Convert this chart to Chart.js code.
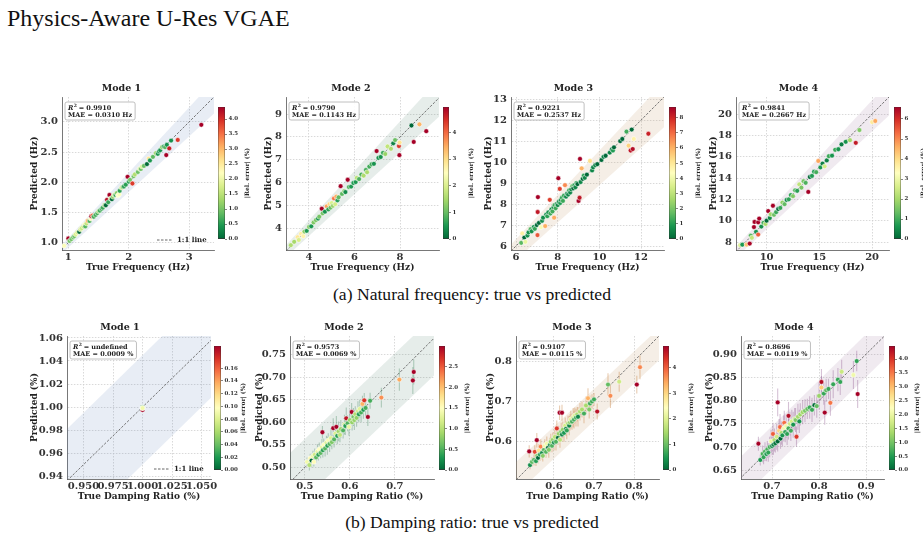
<!DOCTYPE html>
<html><head><meta charset="utf-8">
<script src="https://cdn.jsdelivr.net/npm/chart.js@4.4.1/dist/chart.umd.min.js"></script>
<style>
html,body{margin:0;padding:0;background:#fff}
body{width:923px;height:541px;position:relative;overflow:hidden}
.t{position:absolute;font-family:"Liberation Serif","Times New Roman",serif;color:#111;white-space:nowrap;line-height:1}
canvas{position:absolute}
</style></head><body>
<div class="t" style="left:7px;top:6px;font-size:24px">Physics-Aware U-Res VGAE</div>
<div class="t" style="left:0;width:944px;text-align:center;top:286px;font-size:17.6px">(a) Natural frequency: true vs predicted</div>
<div class="t" style="left:0;width:944px;text-align:center;top:514px;font-size:17.6px">(b) Damping ratio: true vs predicted</div>
<script>
// ================= DATA =================
const modeTitles = ['Mode 1','Mode 2','Mode 3','Mode 4'];

// Natural frequency (Hz)
const freqTrue1 = [0.93,1.00,1.02,1.05,1.08,1.10,1.12,1.15,1.18,1.20,1.22,1.25,1.27,1.28,1.30,1.32,1.35,1.37,1.38,1.40,1.42,1.45,1.48,1.50,1.52,1.55,1.57,1.60,1.62,1.64,1.66,1.68,1.70,1.72,1.74,1.76,1.78,1.80,1.82,1.84,1.85,1.88,1.90,1.92,1.95,1.98,2.00,2.02,2.06,2.08,2.10,2.15,2.18,2.20,2.22,2.25,2.30,2.33,2.35,2.40,2.45,2.48,2.50,2.52,2.55,2.58,2.60,2.62,2.63,2.67,2.70,2.81,3.20];
const freqPred1 = [0.95,1.07,1.03,1.06,1.09,1.11,1.14,1.17,1.18,1.22,1.24,1.27,1.30,1.27,1.32,1.36,1.36,1.40,1.44,1.45,1.43,1.46,1.49,1.52,1.53,1.56,1.58,1.62,1.62,1.71,1.67,1.79,1.73,1.72,1.76,1.79,1.79,1.82,1.78,1.80,1.86,1.91,1.92,1.93,1.96,2.09,2.01,2.04,1.98,2.10,2.13,2.17,2.22,2.22,2.26,2.27,2.30,2.39,2.36,2.42,2.48,2.47,2.51,2.53,2.58,2.59,2.58,2.45,2.62,2.56,2.69,2.70,2.95];
const freqTrue2 = [3.20,3.35,3.50,3.55,3.65,3.75,3.80,3.90,4.00,4.10,4.20,4.30,4.40,4.45,4.56,4.60,4.70,4.78,4.85,4.90,4.95,5.00,5.05,5.10,5.15,5.20,5.25,5.30,5.39,5.45,5.55,5.60,5.70,5.75,5.85,5.95,6.05,6.10,6.20,6.30,6.40,6.50,6.55,6.65,6.75,6.85,6.97,7.05,7.15,7.25,7.35,7.45,7.60,7.70,7.78,7.95,7.97,7.98,8.50,8.60,8.85,9.15];
const freqPred2 = [3.25,3.40,3.60,3.48,3.75,3.65,3.85,3.88,4.05,4.08,4.25,4.35,4.42,4.50,4.85,4.65,4.72,4.95,4.82,5.05,4.90,5.10,4.98,5.30,5.05,5.38,5.22,5.35,5.84,5.50,5.62,5.58,6.12,5.80,5.82,5.98,6.02,6.20,6.15,6.35,6.30,6.55,6.45,6.70,6.80,6.82,7.38,7.08,7.12,7.30,7.25,7.58,7.48,7.72,7.86,7.60,7.20,7.75,8.50,7.78,8.55,8.25];
const freqTrue3 = [6.25,6.30,6.40,6.45,6.55,6.60,6.70,6.75,6.85,6.90,7.00,7.03,7.04,7.05,7.10,7.20,7.25,7.30,7.40,7.45,7.50,7.55,7.62,7.65,7.70,7.75,7.80,7.83,7.85,7.90,7.95,8.00,8.03,8.05,8.10,8.12,8.15,8.20,8.25,8.30,8.35,8.40,8.45,8.50,8.55,8.60,8.65,8.70,8.75,8.80,8.85,8.90,8.95,9.00,9.05,9.07,9.10,9.15,9.20,9.25,9.30,9.40,9.55,9.65,9.70,9.80,9.90,10.10,10.20,10.30,10.50,10.60,10.65,10.70,11.00,11.10,11.30,11.40,11.50,11.55,11.60,11.65,12.35];
const freqPred3 = [6.15,6.60,6.40,6.20,6.50,6.65,6.80,6.70,6.90,6.82,7.00,6.52,7.62,8.33,7.10,6.90,7.20,7.35,6.95,7.50,7.42,7.60,8.20,7.55,7.75,7.65,7.85,7.35,7.95,7.80,8.00,7.95,9.23,8.10,8.72,8.05,8.20,8.30,8.15,8.40,8.90,8.35,8.50,8.45,8.65,8.55,8.70,8.85,8.75,8.90,8.80,9.00,8.95,8.15,8.30,10.15,9.05,9.70,9.20,9.35,9.25,9.40,10.05,9.60,9.75,9.85,9.90,10.10,10.25,10.30,10.45,10.60,10.55,10.70,11.00,11.10,11.45,10.78,10.55,11.55,10.62,11.10,11.35];
const freqTrue4 = [7.50,7.70,8.10,8.40,8.50,8.60,8.80,8.86,9.00,9.20,9.20,9.30,9.50,9.70,9.90,10.00,10.15,10.30,10.40,10.60,10.70,10.90,11.10,11.30,11.50,11.70,11.90,12.10,12.30,12.50,12.70,12.90,13.10,13.30,13.50,13.70,13.95,14.10,14.30,14.50,14.70,14.90,15.10,15.30,15.50,15.70,15.90,16.20,16.50,16.80,17.10,17.50,17.90,18.45,18.80,20.00,20.30];
const freqPred4 = [7.70,7.75,7.75,7.85,8.60,8.40,9.40,9.88,8.95,9.85,8.70,10.20,9.45,9.80,9.70,10.00,10.90,10.25,10.60,11.40,10.55,10.80,11.10,11.20,11.70,11.55,11.95,12.00,12.40,12.30,12.85,12.80,13.40,13.10,13.70,13.55,12.70,14.10,14.20,14.60,14.55,15.60,15.00,15.35,15.10,15.65,16.05,16.10,16.65,16.70,17.15,17.40,17.55,17.30,18.50,19.25,19.35];

// Damping ratio (%)
const dampTrue1 = [1.000,1.000,1.000,1.000,1.000];
const dampPred1 = [1.0000,0.9975,0.9995,0.9990,0.9991];
const dampSig1  = [0.0004,0.0005,0.0004,0.0005,0.0004];
const dampTrue2 = [0.505,0.510,0.512,0.515,0.518,0.520,0.522,0.525,0.528,0.530,0.532,0.535,0.538,0.539,0.540,0.542,0.545,0.548,0.550,0.552,0.555,0.558,0.560,0.563,0.565,0.568,0.570,0.572,0.575,0.578,0.580,0.585,0.588,0.590,0.592,0.595,0.598,0.600,0.604,0.605,0.608,0.610,0.612,0.615,0.618,0.620,0.622,0.625,0.628,0.630,0.632,0.635,0.640,0.645,0.670,0.710,0.740,0.742];
const dampPred2 = [0.512,0.505,0.520,0.515,0.525,0.512,0.528,0.522,0.535,0.528,0.540,0.532,0.545,0.578,0.538,0.550,0.542,0.555,0.548,0.560,0.552,0.565,0.556,0.587,0.562,0.575,0.590,0.570,0.580,0.572,0.585,0.582,0.595,0.592,0.609,0.598,0.590,0.605,0.623,0.600,0.612,0.605,0.618,0.610,0.625,0.618,0.630,0.622,0.641,0.628,0.649,0.632,0.612,0.648,0.655,0.695,0.693,0.712];
const dampSig2  = [0.010,0.012,0.010,0.015,0.012,0.010,0.014,0.012,0.016,0.013,0.015,0.012,0.018,0.014,0.016,0.014,0.018,0.015,0.020,0.016,0.018,0.020,0.016,0.022,0.018,0.020,0.024,0.018,0.022,0.016,0.020,0.018,0.022,0.020,0.024,0.018,0.020,0.022,0.020,0.018,0.020,0.022,0.018,0.020,0.022,0.018,0.020,0.022,0.018,0.020,0.016,0.018,0.020,0.018,0.022,0.025,0.030,0.028];
const dampTrue3 = [0.540,0.545,0.538,0.550,0.552,0.555,0.557,0.558,0.560,0.562,0.565,0.567,0.570,0.572,0.575,0.577,0.580,0.582,0.585,0.587,0.590,0.592,0.595,0.597,0.600,0.602,0.605,0.607,0.610,0.612,0.614,0.615,0.618,0.620,0.620,0.622,0.625,0.628,0.630,0.632,0.635,0.638,0.640,0.642,0.645,0.648,0.650,0.652,0.655,0.658,0.660,0.665,0.670,0.675,0.680,0.685,0.688,0.690,0.695,0.700,0.708,0.735,0.741,0.763,0.807,0.815];
const dampPred3 = [0.542,0.550,0.576,0.555,0.575,0.552,0.604,0.565,0.560,0.578,0.568,0.588,0.572,0.565,0.580,0.590,0.575,0.595,0.585,0.580,0.592,0.600,0.590,0.605,0.598,0.612,0.600,0.633,0.610,0.620,0.672,0.605,0.625,0.672,0.618,0.630,0.622,0.640,0.632,0.628,0.645,0.640,0.648,0.655,0.650,0.660,0.655,0.665,0.660,0.668,0.662,0.675,0.680,0.670,0.690,0.708,0.680,0.695,0.700,0.705,0.675,0.742,0.714,0.749,0.742,0.785];
const dampSig3  = [0.010,0.012,0.015,0.014,0.016,0.012,0.018,0.015,0.014,0.016,0.015,0.018,0.016,0.014,0.018,0.016,0.015,0.018,0.016,0.020,0.018,0.020,0.016,0.018,0.020,0.018,0.022,0.020,0.018,0.020,0.018,0.020,0.022,0.020,0.018,0.020,0.022,0.020,0.018,0.022,0.020,0.024,0.020,0.022,0.020,0.024,0.022,0.020,0.022,0.018,0.024,0.022,0.020,0.024,0.022,0.025,0.022,0.020,0.018,0.016,0.020,0.028,0.030,0.025,0.022,0.030];
const dampTrue4 = [0.671,0.675,0.680,0.682,0.685,0.688,0.690,0.692,0.695,0.698,0.700,0.702,0.703,0.705,0.707,0.710,0.712,0.712,0.715,0.717,0.718,0.720,0.722,0.725,0.726,0.728,0.730,0.732,0.735,0.735,0.738,0.740,0.742,0.745,0.748,0.750,0.752,0.755,0.758,0.760,0.765,0.770,0.775,0.780,0.785,0.790,0.795,0.800,0.805,0.805,0.810,0.812,0.815,0.820,0.824,0.830,0.840,0.845,0.848,0.873,0.880,0.882];
const dampPred4 = [0.707,0.672,0.685,0.678,0.690,0.685,0.695,0.688,0.700,0.712,0.702,0.728,0.705,0.715,0.708,0.722,0.796,0.712,0.735,0.743,0.718,0.730,0.725,0.740,0.752,0.732,0.745,0.728,0.767,0.740,0.750,0.735,0.755,0.748,0.760,0.758,0.722,0.765,0.755,0.770,0.775,0.778,0.782,0.785,0.780,0.790,0.788,0.810,0.840,0.828,0.815,0.774,0.822,0.825,0.795,0.835,0.845,0.840,0.862,0.855,0.885,0.814];
const dampSig4  = [0.015,0.012,0.018,0.015,0.020,0.016,0.018,0.020,0.022,0.025,0.020,0.024,0.022,0.025,0.020,0.028,0.030,0.022,0.025,0.028,0.022,0.025,0.024,0.028,0.026,0.022,0.025,0.024,0.030,0.024,0.026,0.022,0.025,0.028,0.024,0.026,0.022,0.028,0.025,0.024,0.026,0.025,0.022,0.024,0.026,0.022,0.025,0.030,0.028,0.025,0.024,0.026,0.025,0.022,0.028,0.030,0.025,0.028,0.026,0.030,0.022,0.030];

// tick labels
const freqXTicks = [['1','2','3'],['4','6','8'],['6','8','10','12'],['10','15','20']];
const freqYTicks = [['1.0','1.5','2.0','2.5','3.0'],['4','5','6','7','8','9'],['6','7','8','9','10','11','12','13'],['8','10','12','14','16','18','20']];
const dampXTicks = [['0.950','0.975','1.000','1.025','1.050'],['0.5','0.6','0.7'],['0.6','0.7','0.8'],['0.7','0.8','0.9']];
const dampYTicks = [['0.94','0.96','0.98','1.00','1.02','1.04','1.06'],['0.50','0.55','0.60','0.65','0.70','0.75'],['0.6','0.7','0.8'],['0.65','0.70','0.75','0.80','0.85','0.90']];
const freqCbTicks = [['0.0','0.5','1.0','1.5','2.0','2.5','3.0','3.5','4.0'],['0','1','2','3','4'],['0','1','2','3','4','5','6','7','8'],['0','1','2','3','4','5','6']];
const dampCbTicks = [['0.00','0.02','0.04','0.06','0.08','0.10','0.12','0.14','0.16'],['0.0','0.5','1.0','1.5','2.0','2.5'],['0','1','2','3','4'],['0.0','0.5','1.0','1.5','2.0','2.5','3.0','3.5','4.0']];
const freqCbMax = [4.4, 4.95, 8.7, 6.6];
const dampCbMax = [0.195, 3.0, 4.84, 4.47];

// axis limits [xmin,xmax,ymin,ymax]
const freqLimits = [[0.895,3.41,0.88,3.41],[2.99,9.71,3.04,9.75],[5.76,13.1,5.81,13.1],[7.1,21.6,7.25,21.6]];
const dampLimits = [[0.936,1.058,0.9375,1.0617],[0.467,0.787,0.474,0.792],[0.505,0.8625,0.5075,0.8625],[0.634,0.938,0.631,0.939]];

// annotation texts
const freqR2 = ['0.9910','0.9790','0.9221','0.9841'];
const freqMAE = ['0.0310 Hz','0.1143 Hz','0.2537 Hz','0.2667 Hz'];
const dampR2 = ['undefined','0.9573','0.9107','0.8696'];
const dampMAE = ['0.0009 %','0.0069 %','0.0115 %','0.0119 %'];

// confidence band edges: [slopeUpper, interceptUpper, slopeLower, interceptLower]
const freqBand = [[1.08,0,0.92,0],[1.085,0,0.915,0],[1.055,0,0.89,0],[1.065,0,0.92,0]];
const dampBand = [[1,0.045,1,-0.05],[0.952,0.087,0.952,-0.045],[0.93,0.08,0.93,0.0],[0.99,0.052,0.99,-0.040]];

// ================= STYLE / LAYOUT =================
const FONT = 'DejaVu Serif';
Chart.defaults.font.family = FONT;
const bandColors = ['rgba(76,114,176,0.13)','rgba(47,107,79,0.12)','rgba(196,154,108,0.17)','rgba(140,90,140,0.13)'];
const errColors  = ['rgba(76,114,176,0.45)','rgba(60,130,90,0.35)','rgba(205,140,80,0.45)','rgba(150,100,150,0.40)'];
const RDYLGN = ['#006837','#1a9850','#66bd63','#a6d96a','#d9ef8b','#ffffbf','#fee08b','#fdae61','#f46d43','#d73027','#a50026'];
function hex2rgb(h){return [parseInt(h.substr(1,2),16),parseInt(h.substr(3,2),16),parseInt(h.substr(5,2),16)];}
function cmap(t){
  t=Math.max(0,Math.min(1,t)); const n=RDYLGN.length-1; const f=t*n;
  const i=Math.min(Math.floor(f),n-1); const u=f-i;
  const a=hex2rgb(RDYLGN[i]), b=hex2rgb(RDYLGN[i+1]);
  return `rgb(${Math.round(a[0]+(b[0]-a[0])*u)},${Math.round(a[1]+(b[1]-a[1])*u)},${Math.round(a[2]+(b[2]-a[2])*u)})`;
}

const rows = [
  {T:97, B:250, cbT:107, cbB:239, xTitle:'True Frequency (Hz)', yTitle:'Predicted (Hz)',
   cols:[{L:62,R:214,yW:33,cb:[218,225]},{L:286,R:439,yW:23,cb:[443,449]},{L:511,R:664,yW:28,cb:[669,676]},{L:736,R:889,yW:28,cb:[894,901]}],
   tr:[freqTrue1,freqTrue2,freqTrue3,freqTrue4], pr:[freqPred1,freqPred2,freqPred3,freqPred4], sg:[null,null,null,null],
   xt:freqXTicks, yt:freqYTicks, cbt:freqCbTicks, cbm:freqCbMax, lim:freqLimits, r2:freqR2, mae:freqMAE, band:freqBand},
  {T:336, B:479, cbT:346, cbB:470, xTitle:'True Damping Ratio (%)', yTitle:'Predicted (%)',
   cols:[{L:67,R:211,yW:38,cb:[214,221]},{L:290,R:434,yW:36,cb:[439,445]},{L:516,R:659,yW:31,cb:[663,669]},{L:741,R:884,yW:37,cb:[889,895]}],
   tr:[dampTrue1,dampTrue2,dampTrue3,dampTrue4], pr:[dampPred1,dampPred2,dampPred3,dampPred4], sg:[dampSig1,dampSig2,dampSig3,dampSig4],
   xt:dampXTicks, yt:dampYTicks, cbt:dampCbTicks, cbm:dampCbMax, lim:dampLimits, r2:dampR2, mae:dampMAE, band:dampBand}
];

function mkCanvas(l,t,w,h){
  const c=document.createElement('canvas'); c.width=w; c.height=h;
  c.style.left=l+'px'; c.style.top=t+'px'; c.style.width=w+'px'; c.style.height=h+'px';
  document.body.appendChild(c); return c;
}

function makePlot(row, m){
  const col=row.cols[m]; const yW=col.yW, xH=23, tH=16, padR=14;
  const w=(col.R-col.L)+yW+padR, h=(row.B-row.T)+tH+xH;
  const cv=mkCanvas(col.L-yW,row.T-tH,w,h);
  const tr=row.tr[m], pr=row.pr[m], sg=row.sg[m];
  const n=Math.min(tr.length,pr.length);
  const [x0,x1,y0,y1]=row.lim[m];
  const vmax=row.cbm[m];
  const pts=[], cols=[];
  for(let i=0;i<n;i++){ pts.push({x:tr[i],y:pr[i]}); cols.push(cmap(Math.abs(pr[i]-tr[i])/tr[i]*100/vmax)); }
  const b=row.band[m];
  const lo=Math.min(x0,y0), hi=Math.max(x1,y1);
  const upper=[{x:lo,y:b[0]*lo+b[1]},{x:hi,y:b[0]*hi+b[1]}];
  const lower=[{x:lo,y:b[2]*lo+b[3]},{x:hi,y:b[2]*hi+b[3]}];
  const diag=[{x:lo,y:lo},{x:hi,y:hi}];
  const tickFont={family:FONT,size:10,weight:'bold'};
  const titleFont={family:FONT,size:9,weight:'bold',lineHeight:'11px'};
  const xt=row.xt[m], yt=row.yt[m];

  const errPlugin={id:'errbars',beforeDatasetDraw(ch,args){
    if(args.index!==3||!sg) return;
    const ctx=ch.ctx,a=ch.chartArea,xs=ch.scales.x,ys=ch.scales.y;
    ctx.save(); ctx.beginPath(); ctx.rect(a.left,a.top,a.right-a.left,a.bottom-a.top); ctx.clip();
    ctx.strokeStyle=errColors[m]; ctx.lineWidth=1.1;
    for(let i=0;i<n;i++){
      const px=xs.getPixelForValue(tr[i]);
      ctx.beginPath(); ctx.moveTo(px,ys.getPixelForValue(pr[i]-sg[i])); ctx.lineTo(px,ys.getPixelForValue(pr[i]+sg[i])); ctx.stroke();
    }
    ctx.restore();
  }};
  const annoPlugin={id:'anno',afterDatasetsDraw(ch){
    const ctx=ch.ctx,a=ch.chartArea; ctx.save();
    const fs=6.5, x=a.left+3, y=a.top+5;
    ctx.font=`italic bold ${fs}px ${FONT}`; const wR=ctx.measureText('R').width;
    ctx.font=`bold ${fs}px ${FONT}`;
    const t1=' = '+row.r2[m], t2='MAE = '+row.mae[m];
    const w1=wR+3+ctx.measureText(t1).width, w2=ctx.measureText(t2).width;
    const bw=Math.max(w1,w2)+6, bh=18;
    ctx.beginPath(); ctx.roundRect(x,y,bw,bh,2); ctx.fillStyle='rgba(255,255,255,0.9)'; ctx.fill();
    ctx.strokeStyle='#b0b0b0'; ctx.lineWidth=0.8; ctx.stroke();
    ctx.fillStyle='#222'; ctx.textBaseline='alphabetic';
    const tx=x+3, l1=y+7.8, l2=y+15.3;
    ctx.font=`italic bold ${fs}px ${FONT}`; ctx.fillText('R',tx,l1);
    ctx.font=`bold 4.5px ${FONT}`; ctx.fillText('2',tx+wR+0.3,l1-2.8);
    ctx.font=`bold ${fs}px ${FONT}`; ctx.fillText(t1,tx+wR+3,l1); ctx.fillText(t2,tx,l2);
    if(m===0){
      const ly=a.bottom-10;
      ctx.strokeStyle='#666'; ctx.lineWidth=1; ctx.setLineDash([2.5,1.5]);
      ctx.beginPath(); ctx.moveTo(a.right-57,ly); ctx.lineTo(a.right-42,ly); ctx.stroke(); ctx.setLineDash([]);
      ctx.font=`bold 7px ${FONT}`; ctx.textBaseline='middle'; ctx.fillStyle='#222'; ctx.fillText('1:1 line',a.right-37,ly);
    }
    ctx.restore();
  }};

  new Chart(cv,{
    type:'scatter',
    data:{datasets:[
      {type:'line',data:upper,borderWidth:0,pointRadius:0,fill:'+1',backgroundColor:bandColors[m],order:10,clip:0},
      {type:'line',data:lower,borderWidth:0,pointRadius:0,fill:false,order:10,clip:0},
      {type:'line',data:diag,borderColor:'#666',borderWidth:0.9,borderDash:[2.5,1.5],pointRadius:0,fill:false,order:5,clip:0},
      {data:pts,pointRadius:2.4,pointBackgroundColor:cols,pointBorderColor:'#ffffff',pointBorderWidth:0.5,order:1}
    ]},
    options:{
      responsive:false,animation:false,devicePixelRatio:1,
      layout:{padding:{right:padR,left:0,top:0,bottom:0}},
      plugins:{legend:{display:false},tooltip:{enabled:false},
        title:{display:true,text:modeTitles[m],color:'#222',font:{family:FONT,size:9.5,weight:'bold',lineHeight:'12px'},padding:{top:2,bottom:2}}},
      scales:{
        x:{type:'linear',min:x0,max:x1,
          afterBuildTicks:s=>{s.ticks=xt.map(v=>({value:parseFloat(v)}));},
          ticks:{callback:(v,i)=>xt[i],font:tickFont,color:'#333',padding:1,autoSkip:false,maxRotation:0,minRotation:0},
          grid:{color:'#cfcfcf',lineWidth:0.8,drawTicks:false},
          border:{display:true,color:'#555',width:0.8,dash:[1.5,1.5]},
          title:{display:true,text:row.xTitle,font:titleFont,color:'#222',padding:0},
          afterFit:s=>{s.height=xH;}},
        y:{type:'linear',min:y0,max:y1,
          afterBuildTicks:s=>{s.ticks=yt.map(v=>({value:parseFloat(v)}));},
          ticks:{callback:(v,i)=>yt[i],font:tickFont,color:'#333',padding:4,autoSkip:false},
          grid:{color:'#cfcfcf',lineWidth:0.8,drawTicks:false},
          border:{display:true,color:'#555',width:0.8,dash:[1.5,1.5]},
          title:{display:true,text:row.yTitle,font:titleFont,color:'#222',padding:0},
          afterFit:s=>{s.width=yW;}}
      }
    },
    plugins:[errPlugin,annoPlugin]
  });
}

function makeColorbar(row, m){
  const col=row.cols[m]; const cbW=col.cb[1]-col.cb[0], cbH=row.cbB-row.cbT;
  const axW=26, pad=5;
  const cv=mkCanvas(col.cb[0],row.cbT-pad,cbW+axW,cbH+2*pad);
  const vmax=row.cbm[m], tk=row.cbt[m];
  const labelPlugin={id:'cblabel',afterDraw(ch){
    const ctx=ch.ctx,a=ch.chartArea; ctx.save();
    ctx.translate(ch.width-4,(a.top+a.bottom)/2); ctx.rotate(-Math.PI/2);
    ctx.font=`bold 6px ${FONT}`; ctx.fillStyle='#222'; ctx.textAlign='center'; ctx.textBaseline='middle';
    ctx.fillText('|Rel. error| (%)',0,0); ctx.restore();
  }};
  new Chart(cv,{
    type:'bar',
    data:{labels:[''],datasets:[{data:[vmax],
      backgroundColor:(c)=>{const a=c.chart.chartArea; if(!a) return '#888';
        const g=c.chart.ctx.createLinearGradient(0,a.bottom,0,a.top);
        for(let k=0;k<=20;k++) g.addColorStop(k/20,cmap(k/20)); return g;},
      borderColor:'#333',borderWidth:0.7,borderSkipped:false,barPercentage:1,categoryPercentage:1}]},
    options:{responsive:false,animation:false,devicePixelRatio:1,
      layout:{padding:{top:pad,bottom:pad,left:0,right:0}},
      plugins:{legend:{display:false},tooltip:{enabled:false}},
      scales:{
        x:{display:false},
        y:{position:'right',min:0,max:vmax,
          afterBuildTicks:s=>{s.ticks=tk.map(v=>({value:parseFloat(v)}));},
          ticks:{callback:(v,i)=>tk[i],font:{family:FONT,size:5.5,weight:'bold'},color:'#333',padding:1.5,autoSkip:false},
          grid:{drawOnChartArea:false,drawTicks:true,tickLength:2,color:'#333',lineWidth:0.6},
          border:{display:false},
          afterFit:s=>{s.width=axW;}}
      }},
    plugins:[labelPlugin]
  });
}

for(const row of rows){ for(let m=0;m<4;m++){ makePlot(row,m); makeColorbar(row,m); } }
</script>
</body></html>
